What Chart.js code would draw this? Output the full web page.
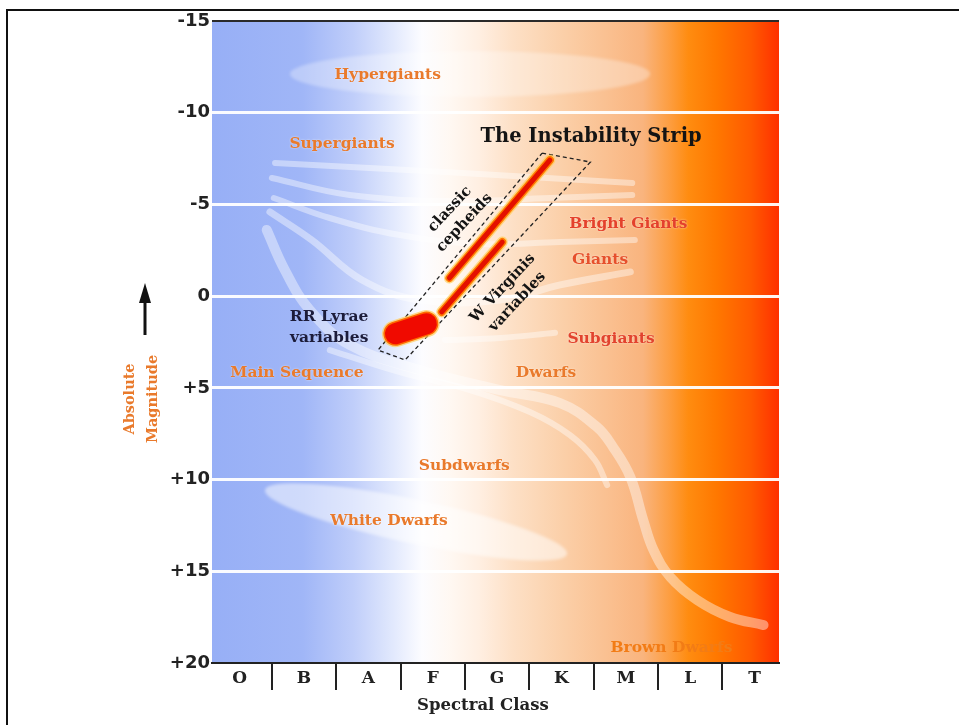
<!DOCTYPE html>
<html><head><meta charset="utf-8">
<script src="https://cdn.jsdelivr.net/npm/chart.js@4.4.1/dist/chart.umd.min.js"></script>
<style>
html,body{margin:0;padding:0;background:#fff;}
#wrap{position:relative;width:959px;height:725px;overflow:hidden;}
#frame{position:absolute;left:6px;top:9px;right:-10px;bottom:-10px;border-top:2px solid #111;border-left:2px solid #111;pointer-events:none;}
canvas{position:absolute;left:0;top:0;}
</style></head><body>
<div id="wrap"><canvas id="c" width="959" height="725"></canvas><div id="frame"></div></div>
<script>
// ---- data (x: spectral class index, y: absolute magnitude) ----
const spectralClasses = ['O','B','A','F','G','K','M','L','T'];
const magnitudeTicks = [-15,-10,-5,0,5,10,15,20];

const supergiantBandX = [1.05,3.69,6.60];
const supergiantBandY = [-7.26,-6.77,-6.17];
const supergiantBand2X = [1.00,2.21,3.77,5.32,6.60];
const supergiantBand2Y = [-6.44,-5.51,-5.19,-5.35,-5.51];
const brightGiantBandX = [1.03,1.90,2.99,4.24,5.48,6.64];
const brightGiantBandY = [-5.35,-4.26,-3.33,-2.84,-2.95,-3.06];
const giantBandX = [0.97,1.62,2.40,3.30,4.55,5.48,6.57];
const giantBandY = [-4.59,-3.06,-0.88,0.21,0.21,-0.61,-1.32];
const subgiantBandX = [3.69,4.55,5.40];
const subgiantBandY = [2.39,2.28,2.00];
const mainSequenceX = [0.92,1.20,1.59,2.21,3.30,4.55,5.48,6.05,6.30,6.57,6.77,6.93,7.19,7.61,8.12,8.64];
const mainSequenceY = [-3.61,-1.43,0.76,2.66,4.03,5.12,5.83,7.13,8.22,9.86,12.20,13.84,15.31,16.57,17.49,17.93];
const dwarfBandX = [1.90,2.99,4.08,5.01,5.63,6.02,6.21];
const dwarfBandY = [2.94,4.14,5.12,6.32,7.57,8.93,10.30];

const stripBoxX = [5.20,5.95,3.07,2.65,5.20];
const stripBoxY = [-7.80,-7.31,3.48,2.94,-7.80];
const cepheidX = [3.76,5.32];
const cepheidY = [-0.99,-7.42];
const wVirginisX = [3.64,4.58];
const wVirginisY = [0.86,-2.95];
const rrLyraeX = [2.92,3.40];
const rrLyraeY = [2.05,1.50];

const ellipseCX = [4.08,3.24];
const ellipseCY = [-12.11,12.31];
const ellipseRX = [2.80,2.40];
const ellipseRY = [1.25,1.20];
const ellipseRot = [0,12];

const regionNames = ['Hypergiants','Supergiants','Bright Giants','Giants','Subgiants','Main Sequence','Dwarfs','Subdwarfs','White Dwarfs'];
const regionX = [2.80,2.09,6.54,6.10,6.27,1.39,5.26,3.99,2.82];
const regionY = [-12.06,-8.29,-3.93,-1.97,2.34,4.19,4.19,9.26,12.26];
const regionColor = ['#e97a2c','#e97a2c','#e4412c','#e6502c','#e2432e','#e97a2c','#e97a2c','#e97a2c','#e97a2c'];
const brownDwarfName = 'Brown Dwarfs';
const brownDwarfX = 6.26, brownDwarfY = 19.18;
const rrLyraeLabel = ['RR Lyrae','variables'];
const rrLyraeLabelX = 1.89, rrLyraeLabelY = 1.71;
const stripLabels = [['classic','cepheids'],['W Virginis','variables']];
const stripLabelX = [3.88,4.70];
const stripLabelY = [-4.37,-0.06];
const stripTitle = 'The Instability Strip';
const stripTitleX = 5.96, stripTitleY = -8.68;
const xTitle = 'Spectral Class';
const yTitle = ['Absolute','Magnitude'];

// ---- helpers ----
const pts = (xs,ys) => xs.map((x,i)=>({x:x,y:ys[i]}));
const band = (xs,ys,w) => ({data:pts(xs,ys),borderColor:'rgba(255,255,255,0.42)',borderWidth:w,tension:0.4,borderCapStyle:'round',pointRadius:0,fill:false,order:10});
const streak = (xs,ys,w,col,ord) => ({data:pts(xs,ys),borderColor:col,borderWidth:w,tension:0,borderCapStyle:'round',pointRadius:0,fill:false,order:ord});

const bgPlugin = {
  id:'bg',
  beforeDraw(chart){
    const {ctx, chartArea:a} = chart;
    const g = ctx.createLinearGradient(a.left,0,a.right,0);
    [[0,'#97aff6'],[0.16,'#a0b6f7'],[0.25,'#c0cefa'],[0.32,'#e2e9fd'],[0.37,'#fcfcff'],[0.42,'#fff8f2'],[0.47,'#ffefe2'],
     [0.53,'#fde0c6'],[0.62,'#fbcfa8'],[0.76,'#f9b47e'],[0.81,'#fd9c3c'],[0.84,'#ff8c10'],[0.89,'#ff7800'],
     [0.95,'#ff5a00'],[1,'#ff3000']].forEach(s=>g.addColorStop(s[0],s[1]));
    ctx.save(); ctx.fillStyle=g; ctx.fillRect(a.left,a.top,a.width,a.height); ctx.restore();
  }
};
const ellipsePlugin = {
  id:'ell',
  beforeDatasetsDraw(chart){
    const {ctx, scales:{x,y}} = chart;
    ctx.save();
    ctx.filter = 'blur(1.5px)';
    for(let i=0;i<ellipseCX.length;i++){
      const cx = x.getPixelForValue(ellipseCX[i]), cy = y.getPixelForValue(ellipseCY[i]);
      const rx = Math.abs(x.getPixelForValue(ellipseCX[i]+ellipseRX[i])-cx);
      const ry = Math.abs(y.getPixelForValue(ellipseCY[i]+ellipseRY[i])-cy);
      ctx.beginPath(); ctx.ellipse(cx,cy,rx,ry,ellipseRot[i]*Math.PI/180,0,Math.PI*2);
      ctx.fillStyle = i===0 ? 'rgba(255,255,255,0.3)' : 'rgba(255,255,255,0.5)';
      ctx.fill();
    }
    ctx.restore();
  }
};
function multiLine(ctx, lines, px, py, lh){
  const n = lines.length;
  lines.forEach((t,i)=>ctx.fillText(t, px, py + (i-(n-1)/2)*lh));
}
const labelPlugin = {
  id:'labels',
  afterDatasetsDraw(chart){
    const {ctx, scales:{x,y}} = chart;
    ctx.save();
    ctx.textAlign='center'; ctx.textBaseline='middle';
    ctx.font = 'bold 15.5px "DejaVu Serif"';
    ctx.shadowColor='rgba(255,255,255,0.7)'; ctx.shadowBlur=2;
    regionNames.forEach((t,i)=>{
      ctx.fillStyle = regionColor[i];
      ctx.fillText(t, x.getPixelForValue(regionX[i]), y.getPixelForValue(regionY[i]));
    });
    ctx.shadowBlur=0;
    ctx.textAlign='left'; ctx.fillStyle='#f27c16';
    ctx.fillText(brownDwarfName, x.getPixelForValue(brownDwarfX), y.getPixelForValue(brownDwarfY));
    ctx.textAlign='center';
    ctx.fillStyle='#1c1c3a';
    ctx.font = 'bold 15.5px "DejaVu Serif"';
    multiLine(ctx, rrLyraeLabel, x.getPixelForValue(rrLyraeLabelX), y.getPixelForValue(rrLyraeLabelY), 21);
    ctx.fillStyle='#141414';
    ctx.font = 'bold 19.5px "DejaVu Serif"';
    ctx.fillText(stripTitle, x.getPixelForValue(stripTitleX), y.getPixelForValue(stripTitleY));
    ctx.font = 'bold 15px "DejaVu Serif"';
    stripLabels.forEach((lines,i)=>{
      ctx.save();
      ctx.translate(x.getPixelForValue(stripLabelX[i]), y.getPixelForValue(stripLabelY[i]));
      ctx.rotate(-47*Math.PI/180);
      multiLine(ctx, lines, 0, 0, 20);
      ctx.restore();
    });
    ctx.restore();
  },
  afterDraw(chart){
    const {ctx, chartArea:a, scales:{x}} = chart;
    ctx.save();
    ctx.strokeStyle='#222'; ctx.lineWidth=2;
    for(let k=1;k<spectralClasses.length;k++){
      const px = Math.round(x.getPixelForValue(k));
      ctx.beginPath(); ctx.moveTo(px,a.bottom); ctx.lineTo(px,a.bottom+27); ctx.stroke();
    }
    ctx.fillStyle='#222'; ctx.textAlign='center'; ctx.textBaseline='middle';
    ctx.font='bold 16.5px "DejaVu Serif"';
    ctx.fillText(xTitle, x.getPixelForValue(4.28), 706);
    // y axis title
    ctx.save();
    ctx.translate(141.5, 399); ctx.rotate(-Math.PI/2);
    ctx.fillStyle='#e97a2c'; ctx.font='bold 14.5px "DejaVu Serif"';
    multiLine(ctx, yTitle, 0, 0, 23);
    ctx.restore();
    // arrow
    ctx.strokeStyle='#111'; ctx.fillStyle='#111'; ctx.lineWidth=3;
    ctx.beginPath(); ctx.moveTo(145,335); ctx.lineTo(145,298); ctx.stroke();
    ctx.beginPath(); ctx.moveTo(139,303); ctx.lineTo(151,303); ctx.lineTo(145,283); ctx.closePath(); ctx.fill();
    ctx.restore();
  }
};

new Chart(document.getElementById('c'), {
  type:'line',
  data:{datasets:[
    band(supergiantBandX,supergiantBandY,6),
    band(supergiantBand2X,supergiantBand2Y,6),
    band(brightGiantBandX,brightGiantBandY,6),
    band(giantBandX,giantBandY,7),
    band(subgiantBandX,subgiantBandY,6),
    band(mainSequenceX,mainSequenceY,10),
    band(dwarfBandX,dwarfBandY,6),
    {data:pts(stripBoxX,stripBoxY),borderColor:'#222',borderWidth:1.3,borderDash:[4,3],tension:0,pointRadius:0,fill:false,order:6},
    streak(cepheidX,cepheidY,11,'rgba(255,205,90,0.7)',5),
    streak(cepheidX,cepheidY,8,'#ff7a00',4),
    streak(cepheidX,cepheidY,5,'#e41000',3),
    streak(wVirginisX,wVirginisY,11,'rgba(255,205,90,0.7)',5),
    streak(wVirginisX,wVirginisY,8,'#ff7a00',4),
    streak(wVirginisX,wVirginisY,5,'#e41000',3),
    streak(rrLyraeX,rrLyraeY,27,'rgba(255,205,90,0.7)',5),
    streak(rrLyraeX,rrLyraeY,24,'#ff6a00',4),
    streak(rrLyraeX,rrLyraeY,21,'#f00a00',3)
  ]},
  options:{
    responsive:false, animation:false, devicePixelRatio:1,
    layout:{padding:{left:0,right:180,top:21,bottom:0}},
    plugins:{legend:{display:false},tooltip:{enabled:false}},
    scales:{
      x:{type:'linear',min:0.07,max:8.88,
         grid:{display:false,drawTicks:false},
         border:{display:true,color:'#222',width:2},
         afterBuildTicks:(s)=>{s.ticks=spectralClasses.map((c,i)=>({value:i+0.5}));},
         afterFit:(s)=>{s.height=62;},
         ticks:{autoSkip:false,maxRotation:0,padding:5,color:'#222',font:{family:'DejaVu Serif',size:17,weight:'bold'},
                callback:(v)=>spectralClasses[Math.floor(v)]}},
      y:{type:'linear',reverse:true,min:-15,max:20,
         afterBuildTicks:(s)=>{s.ticks=magnitudeTicks.map(v=>({value:v}));},
         afterFit:(s)=>{s.width=212;},
         grid:{drawTicks:false,
               color:(c)=>(c.tick && (c.tick.value===-15||c.tick.value===20))?'#2a2a2a':'rgba(255,255,255,0.95)',
               lineWidth:(c)=>(c.tick && (c.tick.value===-15||c.tick.value===20))?2:3},
         border:{display:false},
         ticks:{padding:2,color:'#222',font:{family:'DejaVu Sans',size:18,weight:'bold'},
                callback:(v)=>v>0?'+'+v:String(v)}}
    }
  },
  plugins:[bgPlugin, ellipsePlugin, labelPlugin]
});
</script>
</body></html>
